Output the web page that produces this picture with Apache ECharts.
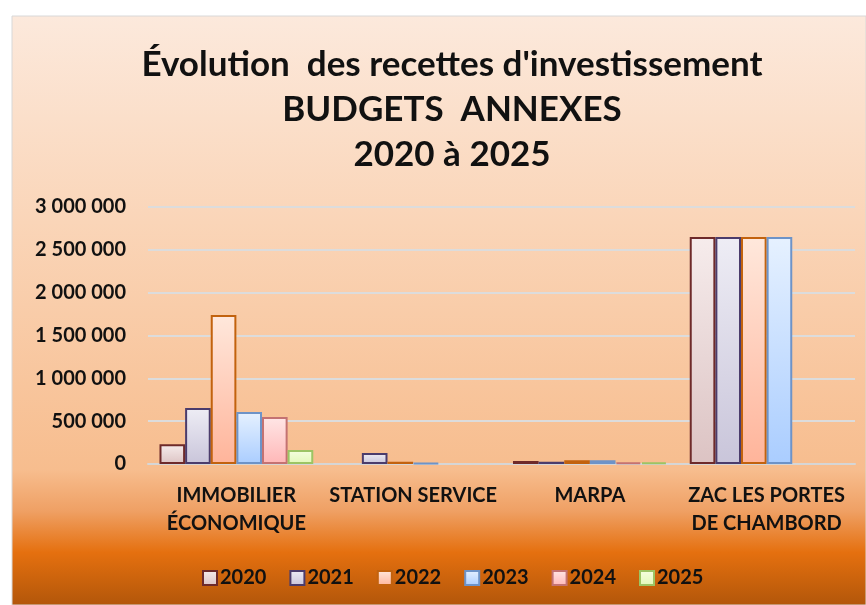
<!DOCTYPE html>
<html>
<head>
<meta charset="utf-8">
<script src="https://cdn.jsdelivr.net/npm/echarts@6/dist/echarts.min.js"></script>
<style>
  html, body { margin: 0; padding: 0; background: #fff; }
  #chart { width: 866px; height: 605px; }
</style>
</head>
<body>
<div id="chart"></div>
<script>
// catégories et années
const categories = ["IMMOBILIER\nÉCONOMIQUE", "STATION SERVICE", "MARPA", "ZAC LES PORTES\nDE CHAMBORD"];
const years = ["2020", "2021", "2022", "2023", "2024", "2025"];

// valeurs par année (une valeur par catégorie, null = pas de barre)
const v2020 = [230000, null, 35000, 2650000];
const v2021 = [655000, 128000, 25000, 2650000];
const v2022 = [1740000, 25000, 45000, 2650000];
const v2023 = [607000, 10000, 45000, 2650000];
const v2024 = [549000, null, 20000, null];
const v2025 = [163000, null, 20000, null];

const yTicks = [0, 500000, 1000000, 1500000, 2000000, 2500000, 3000000];

const seriesData = [v2020, v2021, v2022, v2023, v2024, v2025];

// couleurs : dégradé haut, dégradé bas, bordure
const palette = [
  ["#f6ecec", "#dcc3c3", "#6e2a2a"],
  ["#eeedf5", "#c9c5da", "#4b3c6c"],
  ["#ffe8dc", "#ffb49a", "#c2620e"],
  ["#e6f1ff", "#aacdff", "#6d93c8"],
  ["#ffe6e6", "#ffb7b7", "#c47272"],
  ["#f6ffe0", "#e2f8b8", "#9cc464"]
];

const fontFam = "Lato, 'Open Sans', sans-serif";

const chart = echarts.init(document.getElementById("chart"));

function fmt(v) {
  return String(v).replace(/\B(?=(\d{3})+(?!\d))/g, " ");
}

chart.setOption({
  backgroundColor: "#ffffff",
  graphic: [
    {
      type: "rect",
      z: -10,
      silent: true,
      shape: { x: 12, y: 16, width: 854, height: 589 },
      style: {
        fill: new echarts.graphic.LinearGradient(0, 0, 0, 1, [
          { offset: 0, color: "#fce9dc" },
          { offset: 0.35, color: "#fad5b8" },
          { offset: 0.77, color: "#f7bd8e" },
          { offset: 0.84, color: "#efa064" },
          { offset: 0.91, color: "#e5700f" },
          { offset: 1, color: "#b2560a" }
        ]),
        stroke: "#d8d8d8",
        lineWidth: 1
      }
    }
  ],
  title: {
    text: "Évolution  des recettes d'investissement\nBUDGETS  ANNEXES\n2020 à 2025",
    left: 447,
    textAlign: "center",
    top: 37,
    textStyle: {
      fontFamily: fontFam,
      fontWeight: "bold",
      fontSize: 35,
      lineHeight: 45,
      color: "#111"
    }
  },
  legend: {
    data: years,
    bottom: 12,
    left: 197,
    itemWidth: 14,
    itemHeight: 14,
    itemGap: 23,
    icon: "rect",
    textStyle: {
      fontFamily: fontFam,
      fontWeight: "bold",
      fontSize: 20,
      color: "#111",
      padding: [0, 0, 0, -2]
    }
  },
  grid: {
    left: 148,
    right: 11,
    top: 207,
    bottom: 141,
    containLabel: false
  },
  xAxis: {
    type: "category",
    data: categories,
    axisLine: { show: true, lineStyle: { color: "#d6d6d6", width: 2 } },
    axisTick: { show: false },
    axisLabel: {
      interval: 0,
      margin: 18,
      fontFamily: fontFam,
      fontWeight: "bold",
      fontSize: 20,
      lineHeight: 28,
      color: "#111"
    }
  },
  yAxis: {
    type: "value",
    min: yTicks[0],
    max: yTicks[yTicks.length - 1],
    interval: yTicks[1] - yTicks[0],
    axisLine: { show: false },
    axisTick: { show: false },
    splitLine: { lineStyle: { color: "#dcdcdc", width: 2 } },
    axisLabel: {
      margin: 22,
      fontFamily: fontFam,
      fontWeight: "bold",
      fontSize: 20,
      color: "#111",
      formatter: fmt
    }
  },
  series: years.map((y, i) => ({
    name: y,
    type: "bar",
    data: seriesData[i],
    barGap: "0%",
    barCategoryGap: "13%",
    itemStyle: {
      color: new echarts.graphic.LinearGradient(0, 0, 0, 1, [
        { offset: 0, color: palette[i][0] },
        { offset: 1, color: palette[i][1] }
      ]),
      borderColor: palette[i][2],
      borderWidth: 2
    }
  }))
});
</script>
</body>
</html>
